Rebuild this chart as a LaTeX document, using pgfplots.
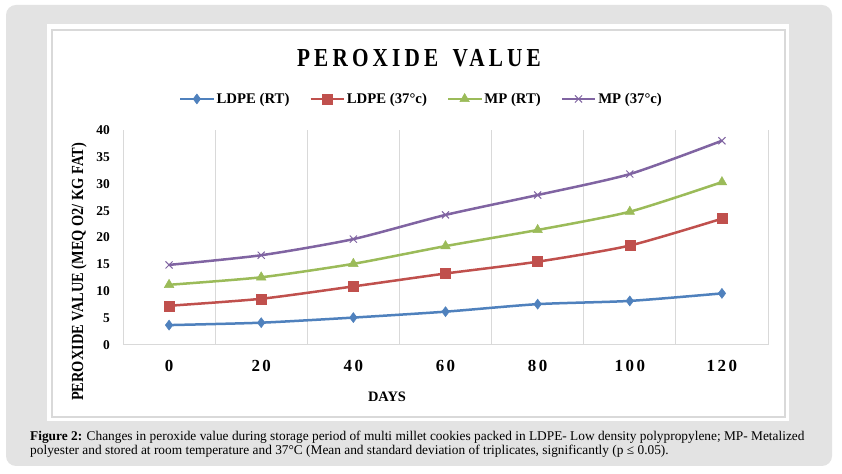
\documentclass[border=0pt]{standalone}
\usepackage{fontspec}
\setmainfont{Liberation Serif}
\newfontfamily\titlefont[FakeStretch=0.82,LetterSpace=16]{Liberation Serif}
\newfontfamily\condfont[FakeStretch=0.85]{Liberation Serif}
\usepackage{pgfplots}
\pgfplotsset{compat=1.18}
\definecolor{frameg}{RGB}{227,227,227}
\definecolor{borderg}{RGB}{217,217,217}
\definecolor{gridg}{RGB}{217,217,217}
\definecolor{cblue}{RGB}{79,129,189}
\definecolor{cred}{RGB}{192,80,77}
\definecolor{cgreen}{RGB}{155,187,89}
\definecolor{cpurple}{RGB}{128,100,162}
\begin{document}
\begin{tikzpicture}[x=1bp,y=1bp]
\useasboundingbox (0,0) rectangle (842,474);
\fill[white] (0,0) rectangle (842,474);
\fill[frameg, rounded corners=10bp] (6,8) rectangle (832,469);
\fill[white] (47,53) rectangle (789,450);
\draw[borderg, line width=1.5bp] (52,57) rectangle (785,444);
\node[inner sep=0pt] at (419,416) {\titlefont\bfseries\fontsize{26}{30}\selectfont PEROXIDE\hspace{5bp} VALUE};
\node[rotate=90, inner sep=0pt] at (79,202) {\condfont\bfseries\fontsize{17}{20}\selectfont PEROXIDE VALUE (MEQ O2/ KG FAT)};
\node[inner sep=0pt] at (387,77) {\bfseries\fontsize{14.5}{16}\selectfont DAYS};
\node[anchor=base west, inner sep=0pt] at (30,33) {\fontsize{13.4}{15}\selectfont\textbf{Figure 2:} Changes in peroxide value during storage period of multi millet cookies packed in LDPE- Low density polypropylene; MP- Metalized};
\node[anchor=base west, inner sep=0pt] at (30,19) {\fontsize{13.4}{15}\selectfont polyester and stored at room temperature and 37°C (Mean and standard deviation of triplicates, significantly (p ≤ 0.05).};
\begin{axis}[
  at={(123bp,129bp)}, anchor=south west,
  scale only axis, width=645bp, height=215bp,
  xmin=-0.5, xmax=6.5, ymin=0, ymax=40,
  xtick={0,1,2,3,4,5,6},
  xticklabels={0, 2\kern2.5bp0, 4\kern2.5bp0, 6\kern2.5bp0, 8\kern2.5bp0, 1\kern2.5bp0\kern2.5bp0, 1\kern2.5bp2\kern2.5bp0},
  minor xtick={-0.5,0.5,1.5,2.5,3.5,4.5,5.5,6.5},
  xminorgrids=true,
  minor grid style={gridg, line width=1bp},
  ytick={0,5,...,40},
  axis line style={draw=none},
  major tick length=0pt, minor tick length=0pt,
  /pgf/number format/assume math mode=true,
  yticklabel style={font=\bfseries\fontsize{13.5}{15}\selectfont, anchor=east, inner sep=0pt, xshift=-13bp},
  xticklabel style={font=\bfseries\fontsize{17}{19}\selectfont, anchor=north, inner sep=0pt, yshift=-15bp},
  legend columns=4,
  legend cell align=left,
  legend style={draw=none, fill=none, at={(0.5,1)}, anchor=center, xshift=-24bp, yshift=31bp,
    font=\bfseries\fontsize{14.8}{16}\selectfont,
    /tikz/every even column/.append style={column sep=18bp}},
  legend image code/.code={\draw[mark repeat=2,mark phase=2] plot coordinates {(0bp,0bp) (16.5bp,0bp) (33bp,0bp)};},
  every axis plot/.append style={line width=2.5bp, smooth, tension=0.4},
]
\draw[gridg, line width=1bp] (axis cs:-0.5,0) -- (axis cs:6.5,0);
\addplot[cblue, mark=diamond*, mark size=5bp, mark options={solid, line width=0.5bp}] coordinates {(0,3.7) (1,4.15) (2,5.1) (3,6.2) (4,7.6) (5,8.2) (6,9.6)};
\addlegendentry{LDPE (RT)}
\addplot[cred, mark=square*, mark size=5bp, mark options={solid, line width=0.5bp}] coordinates {(0,7.3) (1,8.6) (2,10.9) (3,13.3) (4,15.5) (5,18.5) (6,23.5)};
\addlegendentry{LDPE (37°c)}
\addplot[cgreen, mark=triangle*, mark size=5.5bp, mark options={solid, line width=0.5bp}] coordinates {(0,11.2) (1,12.6) (2,15.1) (3,18.4) (4,21.4) (5,24.8) (6,30.3)};
\addlegendentry{MP (RT)}
\addplot[cpurple, mark=x, mark size=5bp, mark options={solid, line width=1bp}] coordinates {(0,14.9) (1,16.7) (2,19.7) (3,24.2) (4,27.9) (5,31.8) (6,38.0)};
\addlegendentry{MP (37°c)}
\end{axis}
\end{tikzpicture}
\end{document}
